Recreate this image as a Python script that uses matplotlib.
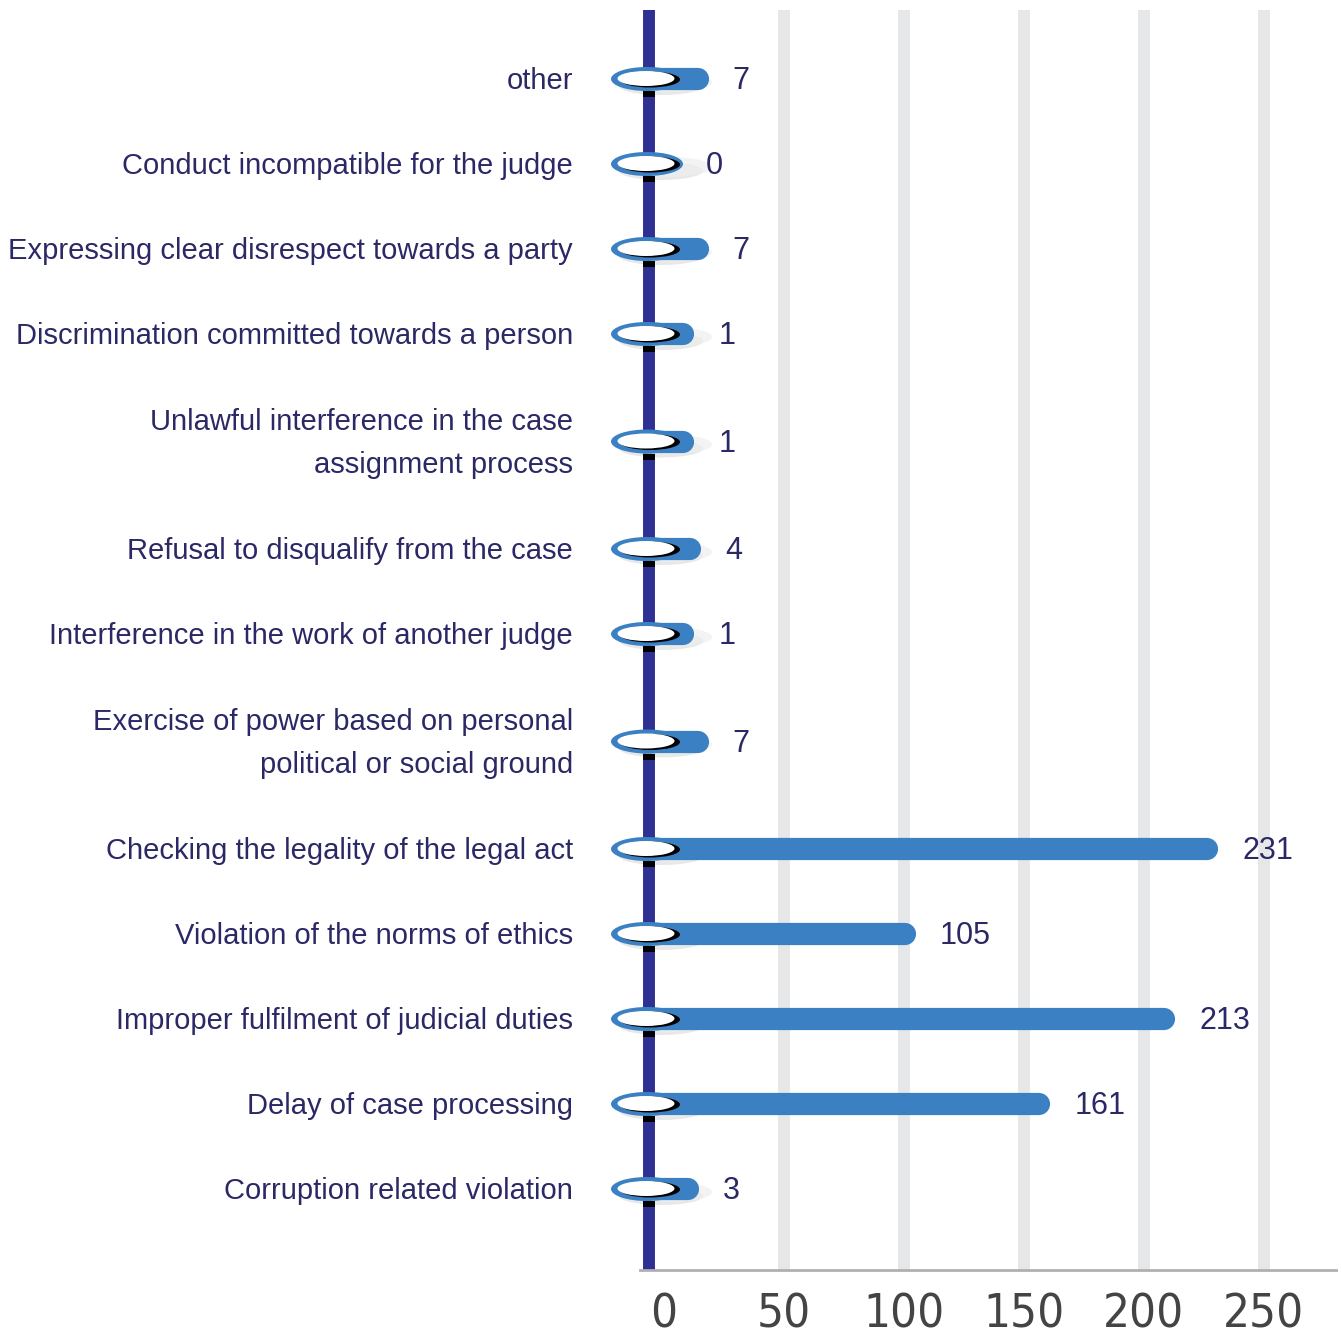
import numpy as np
import matplotlib
matplotlib.use("Agg")
import matplotlib.pyplot as plt
from matplotlib.patches import Ellipse
from matplotlib.transforms import blended_transform_factory

# data, top to bottom as in the chart
categories = [
    "other",
    "Conduct incompatible for the judge",
    "Expressing clear disrespect towards a party",
    "Discrimination committed towards a person",
    "Unlawful interference in the case\nassignment process",
    "Refusal to disqualify from the case",
    "Interference in the work of another judge",
    "Exercise of power based on personal\npolitical or social ground",
    "Checking the legality of the legal act",
    "Violation of the norms of ethics",
    "Improper fulfilment of judicial duties",
    "Delay of case processing",
    "Corruption related violation",
]
values = [7, 0, 7, 1, 1, 4, 1, 7, 231, 105, 213, 161, 3]
xticks = [0, 50, 100, 150, 200, 250]

NAVY = "#2e3192"
BLUE = "#3b80c3"
TEXT = "#2b2866"
GRID = "#e6e7e8"

W, H = 1341, 1339
fig = plt.figure(figsize=(W / 100, H / 100), dpi=100)

# axes placed in pixel coords of the reference
left_px, right_px, top_px, bot_px = 600, 1336, 10, 1270
ax = fig.add_axes([left_px / W, 1 - bot_px / H, (right_px - left_px) / W, (bot_px - top_px) / H])

ppu = 2.4      # pixels per value unit
zero_px = 664
ax.set_xlim((left_px - zero_px) / ppu, (right_px - zero_px) / ppu)
ax.set_ylim(bot_px, top_px)  # y measured in pixels from top

# slot heights: one-line labels smaller than two-line labels
slot = [130 if "\n" in c else 85 for c in categories]
ypos = [79]
for i in range(1, len(categories)):
    ypos.append(ypos[-1] + (slot[i - 1] + slot[i]) / 2)
ypos = np.array(ypos)

# grid columns
for t in xticks[1:]:
    ax.axvline(t, color=GRID, lw=8.6, zorder=0)

# navy vertical axis bar
x_axis = (649 - zero_px) / ppu
ax.axvline(x_axis, color=NAVY, lw=8.6, zorder=1)

cap = 11 / ppu   # round cap sticks out half the line width
bar_start = -10
cx = (647 - zero_px) / ppu
for y, v in zip(ypos, values):
    if v > 0:
        # tiny values get a short visible stub like in the original
        end = v - cap if v > 20 else v + 7
        ax.hlines(y, bar_start, end, color=BLUE, lw=16, capstyle="round", zorder=3)
        lx = end + cap + 24 / ppu
    else:
        lx = (706 - zero_px) / ppu
    # shadow
    ax.add_patch(Ellipse((cx + 14 / ppu, y + 7), 84 / ppu, 18, color="#d9d9d9", alpha=0.6, zorder=2, lw=0))
    ax.add_patch(Ellipse((cx + 22 / ppu, y + 3), 86 / ppu, 20, color="#eeeeee", alpha=0.7, zorder=2, lw=0))
    # small black shadow on navy bar
    ax.vlines(x_axis, y + 12, y + 18, color="black", lw=8.6, zorder=2)
    # ring
    ax.add_patch(Ellipse((cx, y), 72 / ppu, 24, color=BLUE, zorder=4, lw=0))
    ax.add_patch(Ellipse((cx + 3 / ppu, y + 0.5), 60 / ppu, 16, color="black", zorder=5, lw=0))
    ax.add_patch(Ellipse((cx - 1 / ppu, y - 0.5), 57 / ppu, 15, color="white", zorder=6, lw=0))
    # value label
    ax.text(lx, y + 2, str(v), ha="left", va="center", fontsize=22, color=TEXT,
            family="Liberation Sans", zorder=7)

# category labels, right edge at x=573px
lab_tr = blended_transform_factory(fig.transFigure, ax.transData)
for y, c in zip(ypos, categories):
    ax.text(573 / W, y + 2, c, transform=lab_tr, ha="right", va="center",
            fontsize=21, color=TEXT, family="Liberation Sans", linespacing=1.72)
ax.set_yticks([])

ax.set_xticks(xticks)
ax.set_xticklabels([str(t) for t in xticks], fontsize=34, color="#444444",
                   family="DejaVu Sans", fontstretch="condensed", fontweight="light")
ax.tick_params(axis="x", length=0, pad=16)

for s in ["top", "right", "left"]:
    ax.spines[s].set_visible(False)
ax.spines["bottom"].set_color("#b0b0b0")
ax.spines["bottom"].set_linewidth(2)
ax.spines["bottom"].set_bounds((640 - zero_px) / ppu, (right_px - zero_px) / ppu)

fig.savefig("out.png", dpi=100, facecolor="white")
